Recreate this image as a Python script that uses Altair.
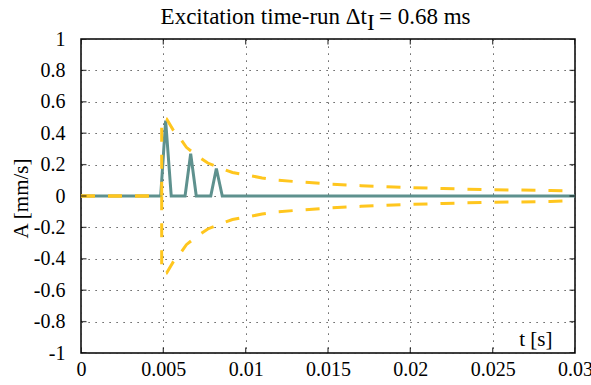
import altair as alt
import pandas as pd

# ---- data ----
teal_t = [0, 0.00484, 0.00514, 0.00548, 0.00632, 0.00666, 0.0070, 0.00788, 0.00822, 0.00858, 0.03]
teal_a = [0, 0, 0.48, 0, 0, 0.27, 0, 0, 0.175, 0, 0]

env_t = [0, 0.0049, 0.0049, 0.0052, 0.0056, 0.006, 0.0064, 0.007, 0.0077, 0.0084, 0.0092,
         0.010, 0.011, 0.012, 0.0135, 0.015, 0.017, 0.019, 0.022, 0.025, 0.0285, 0.03]
env_upper = [0, 0, 0.49, 0.49, 0.42, 0.37, 0.31, 0.26, 0.21, 0.18, 0.15,
             0.135, 0.115, 0.10, 0.088, 0.077, 0.066, 0.057, 0.047, 0.04, 0.035, 0.032]
env_lower = [0, 0, -0.49, -0.49, -0.42, -0.37, -0.31, -0.26, -0.21, -0.18, -0.15,
             -0.135, -0.115, -0.10, -0.088, -0.077, -0.066, -0.057, -0.047, -0.04, -0.035, -0.03]

x_ticks = [0, 0.005, 0.01, 0.015, 0.02, 0.025, 0.03]
y_ticks = [-1, -0.8, -0.6, -0.4, -0.2, 0, 0.2, 0.4, 0.6, 0.8, 1]

title_main = "Excitation time-run Δt"
title_sub = "I"
title_rest = "= 0.68 ms"
x_title = "t [s]"
y_title = "A [mm/s]"

TEAL = "#5E918E"
YELLOW = "#FFC61E"
FONT = "Liberation Serif"
W, H = 494, 314

teal_df = pd.DataFrame({"t": teal_t, "a": teal_a})
rows = []
for i, (t, a) in enumerate(zip(env_t, env_upper)):
    rows.append({"t": t, "a": a, "s": "upper", "o": i})
for i, (t, a) in enumerate(zip(env_t, env_lower)):
    rows.append({"t": t, "a": a, "s": "lower", "o": i})
env_df = pd.DataFrame(rows)

xs = alt.Scale(domain=[0, 0.03], nice=False, zero=False)
ys = alt.Scale(domain=[-1, 1], nice=False, zero=False)

x_axis = alt.Axis(
    values=x_ticks, labelExpr="'' + datum.value", title=x_title,
    titleX=471, titleY=-8, titleAlign="right", titleBaseline="alphabetic",
    labelPadding=6,
)
y_axis = alt.Axis(
    values=y_ticks, labelExpr="'' + datum.value", title=y_title,
    titleX=-54, titleY=159, titleAlign="center", titleBaseline="alphabetic", titleAngle=270,
    labelPadding=16,
)

X = alt.X("t:Q", scale=xs, axis=x_axis)
Y = alt.Y("a:Q", scale=ys, axis=y_axis)

teal = alt.Chart(teal_df).mark_line(color=TEAL, strokeWidth=3, clip=True).encode(x=X, y=Y)

env = alt.Chart(env_df).mark_line(color=YELLOW, strokeWidth=3, strokeDash=[14, 13], clip=True).encode(
    x=X, y=Y, detail="s:N", order="o:Q",
)

xt_df = pd.DataFrame({"t": x_ticks})
yt_df = pd.DataFrame({"a": y_ticks})
tick_style = dict(color="black", thickness=1.3, size=11, clip=True)
xt_bottom = alt.Chart(xt_df).mark_tick(**tick_style).encode(x=X, y=alt.value(H))
xt_top = alt.Chart(xt_df).mark_tick(**tick_style).encode(x=X, y=alt.value(0))
yt_left = alt.Chart(yt_df).mark_tick(**tick_style).encode(y=Y, x=alt.value(0))
yt_right = alt.Chart(yt_df).mark_tick(**tick_style).encode(y=Y, x=alt.value(W))

title_df = pd.DataFrame({"a": [title_main], "b": [title_sub], "c": [title_rest]})
t1 = alt.Chart(title_df).mark_text(font=FONT, fontSize=23, align="right", baseline="alphabetic",
                                   color="black").encode(
    text="a:N", x=alt.value(286), y=alt.value(-15))
t2 = alt.Chart(title_df).mark_text(font=FONT, fontSize=23, align="left", baseline="alphabetic",
                                   color="black").encode(
    text="b:N", x=alt.value(286), y=alt.value(-9))
t3 = alt.Chart(title_df).mark_text(font=FONT, fontSize=23, align="left", baseline="alphabetic",
                                   color="black").encode(
    text="c:N", x=alt.value(298), y=alt.value(-15))

chart = alt.layer(teal, env, xt_bottom, xt_top, yt_left, yt_right, t1, t2, t3).properties(
    width=W, height=H,
    autosize=alt.AutoSizeParams(type="none"),
    padding={"left": 81, "top": 39, "right": 16, "bottom": 32},
).configure(
    background="white",
    font=FONT,
    view=alt.ViewConfig(stroke="black", strokeWidth=1.5),
    axis=alt.AxisConfig(
        labelFont=FONT, labelFontSize=20, labelColor="black", labelFlush=False,
        labelOverlap=False, ticks=False, tickSize=0, domain=False,
        titleFont=FONT, titleFontSize=21, titleFontWeight="normal", titleColor="black",
        grid=True, gridColor="#333333", gridDash=[1.2, 5.8], gridWidth=1, gridOpacity=1,
    ),
)

chart.save("out.html", embed_options={"renderer": "svg", "actions": False})
